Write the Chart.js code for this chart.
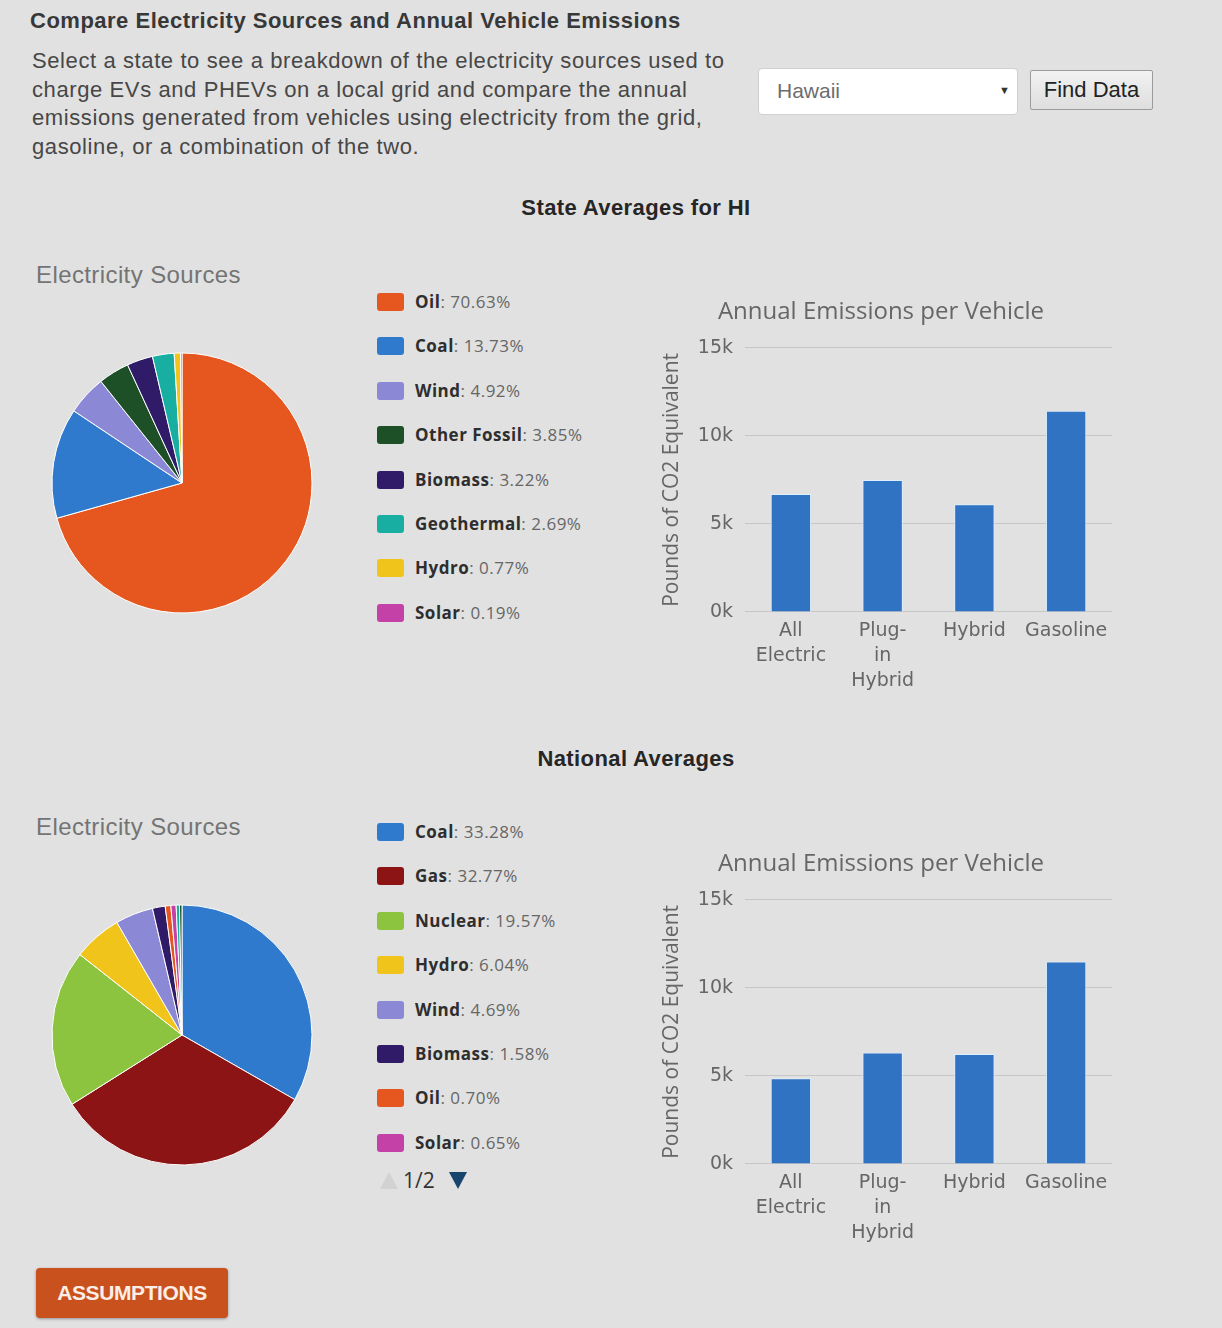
<!DOCTYPE html>
<html>
<head>
<meta charset="utf-8">
<script src="https://cdn.jsdelivr.net/npm/chart.js@4.4.1/dist/chart.umd.min.js"></script>
<style>
  html, body { margin: 0; padding: 0; }
  body {
    width: 1222px; height: 1328px; overflow: hidden; position: relative;
    background: #e1e1e1; font-family: "Liberation Sans", Arial, sans-serif;
  }
  .abs { position: absolute; }
  h1 { position: absolute; left: 30px; top: 8px; margin: 0; font-size: 22px; letter-spacing: 0.5px; font-weight: bold; color: #383838; white-space: nowrap; }
  .intro { left: 32px; top: 47px; font-size: 22px; letter-spacing: 0.6px; line-height: 28.7px; color: #474747; white-space: nowrap; }
  .select {
    left: 758px; top: 68px; width: 258px; height: 45px; background: #fff;
    border: 1px solid #d0d0d0; border-radius: 4px;
  }
  .select span { position: absolute; left: 18px; top: 10px; font-size: 21px; color: #6d6d6d; }
  .select i { position: absolute; left: 240px; top: 15px; font-style: normal; font-size: 11px; color: #333; }
  .find {
    left: 1030px; top: 70px; width: 123px; height: 40px; box-sizing: border-box;
    border: 1px solid #9c9c9c; border-radius: 2px; background: linear-gradient(#f2f2f2, #dedede);
    font-size: 22px; color: #222; text-align: center; line-height: 38px;
  }
  .section { left: 0; width: 1272px; text-align: center; font-size: 22px; letter-spacing: 0.4px; font-weight: bold; color: #262626; }
  .srcTitle { left: 36px; font-size: 24px; letter-spacing: 0.4px; color: #747474; }
  .legend .row { position: absolute; left: 377px; height: 20px; white-space: nowrap; font-family: "Open Sans", sans-serif; font-size: 17px; letter-spacing: 0.5px; color: #666; }
  .legend .sw { position: absolute; left: 0; top: 1px; width: 27px; height: 18px; border-radius: 3px; }
  .legend .txt { position: absolute; left: 38px; top: -2px; line-height: 24px; }
  .legend b { color: #2e2e2e; }
  .pager-up { left: 380px; top: 1172px; width: 0; height: 0; border-left: 9px solid transparent; border-right: 9px solid transparent; border-bottom: 17px solid #d2d2d2; }
  .pager-down { left: 449px; top: 1172px; width: 0; height: 0; border-left: 9px solid transparent; border-right: 9px solid transparent; border-top: 17px solid #17456e; }
  .pager-text { left: 403px; top: 1165px; font-family: "Open Sans", sans-serif; font-size: 21px; line-height: 30px; color: #333; }
  .assume {
    left: 36px; top: 1268px; width: 192px; height: 50px; background: #c9511d; border-radius: 4px;
    box-shadow: 0 1px 3px rgba(0,0,0,0.35); color: #fbeee6; font-weight: bold; font-size: 21px;
    text-align: center; line-height: 50px; letter-spacing: -0.4px;
  }
  canvas { position: absolute; }
</style>
</head>
<body>

<h1>Compare Electricity Sources and Annual Vehicle Emissions</h1>
<div class="abs intro">Select a state to see a breakdown of the electricity sources used to<br>charge EVs and PHEVs on a local grid and compare the annual<br>emissions generated from vehicles using electricity from the grid,<br>gasoline, or a combination of the two.</div>
<div class="abs select"><span>Hawaii</span><i>&#9660;</i></div>
<div class="abs find">Find Data</div>

<div class="abs section" style="top:195px">State Averages for HI</div>
<div class="abs srcTitle" style="top:261px">Electricity Sources</div>
<div class="legend" id="stateLegend"></div>
<canvas id="statePie" width="280" height="280" style="left:42px; top:343px"></canvas>
<canvas id="stateBar" width="470" height="414" style="left:650px; top:292px"></canvas>

<div class="abs section" style="top:746px">National Averages</div>
<div class="abs srcTitle" style="top:813px">Electricity Sources</div>
<div class="legend" id="nationalLegend"></div>
<div class="abs pager-up"></div>
<div class="abs pager-text">1/2</div>
<div class="abs pager-down"></div>
<canvas id="nationalPie" width="280" height="280" style="left:42px; top:895px"></canvas>
<canvas id="nationalBar" width="470" height="414" style="left:650px; top:844px"></canvas>

<div class="abs assume">ASSUMPTIONS</div>

<script>
// electricity mix for Hawaii, percent
const stateSources = ['Oil', 'Coal', 'Wind', 'Other Fossil', 'Biomass', 'Geothermal', 'Hydro', 'Solar'];
const stateShares = [70.63, 13.73, 4.92, 3.85, 3.22, 2.69, 0.77, 0.19];

// national mix, percent (last two sit on legend page 2)
const nationalSources = ['Coal', 'Gas', 'Nuclear', 'Hydro', 'Wind', 'Biomass', 'Oil', 'Solar', 'Geothermal', 'Other Fossil'];
const nationalShares = [33.28, 32.77, 19.57, 6.04, 4.69, 1.58, 0.70, 0.65, 0.41, 0.31];
const legendPageSize = 8;

// annual emissions per vehicle, lbs CO2e
const vehicleTypes = [['All', 'Electric'], ['Plug-', 'in', 'Hybrid'], 'Hybrid', 'Gasoline'];
const stateEmissions = [6700, 7490, 6120, 11420];
const nationalEmissions = [4870, 6330, 6240, 11500];
const emissionTicks = ['0k', '5k', '10k', '15k'];

const sourceColors = {
  'Oil': '#e5571f',
  'Coal': '#2f7acd',
  'Wind': '#8b88d6',
  'Other Fossil': '#1d5026',
  'Biomass': '#2f1b68',
  'Geothermal': '#19aea2',
  'Hydro': '#f1c41b',
  'Solar': '#c441a7',
  'Gas': '#8d1414',
  'Nuclear': '#8cc43f'
};
const barColor = '#2f73c2';
const axisGray = '#666';

function buildLegend(el, names, shares, top) {
  names.slice(0, legendPageSize).forEach((name, i) => {
    const row = document.createElement('div');
    row.className = 'row';
    row.style.top = (top + i * 44.4 - 10) + 'px';
    row.innerHTML = '<div class="sw" style="background:' + sourceColors[name] + '"></div>' +
      '<div class="txt"><b>' + name + '</b>: ' + shares[i].toFixed(2) + '%</div>';
    el.appendChild(row);
  });
}

function pieChart(id, names, shares) {
  new Chart(document.getElementById(id), {
    type: 'pie',
    data: {
      labels: names,
      datasets: [{
        data: shares,
        backgroundColor: names.map(n => sourceColors[n]),
        borderColor: '#ffffff',
        borderWidth: 1,
        hoverOffset: 0
      }]
    },
    options: {
      responsive: false,
      animation: false,
      radius: 130,
      plugins: { legend: { display: false }, tooltip: { enabled: false } }
    }
  });
}

function barChart(id, values) {
  new Chart(document.getElementById(id), {
    type: 'bar',
    data: {
      labels: vehicleTypes,
      datasets: [{
        data: values,
        backgroundColor: barColor,
        borderColor: '#dcefff',
        borderWidth: 1,
        borderSkipped: 'bottom',
        categoryPercentage: 1,
        barPercentage: 0.44
      }]
    },
    options: {
      responsive: false,
      animation: false,
      layout: { padding: { top: 0, right: 8, bottom: 5, left: 0 } },
      plugins: {
        legend: { display: false },
        tooltip: { enabled: false },
        title: {
          display: true,
          text: 'Annual Emissions per Vehicle',
          color: axisGray,
          font: { family: 'Open Sans', size: 24, weight: 'normal' },
          padding: { top: 6, bottom: 21 }
        }
      },
      scales: {
        x: {
          grid: { display: false, drawTicks: false },
          border: { display: false },
          ticks: {
            color: axisGray,
            font: { family: 'DejaVu Sans', size: 19, lineHeight: 1.316 },
            padding: 7,
            maxRotation: 0,
            autoSkip: false
          }
        },
        y: {
          min: 0,
          max: 15000,
          grid: { color: '#c6c6c6', drawTicks: false },
          border: { display: false },
          ticks: {
            stepSize: 5000,
            padding: 12,
            color: axisGray,
            font: { family: 'DejaVu Sans', size: 19 },
            callback: (v, i) => emissionTicks[i]
          },
          title: {
            display: true,
            text: 'Pounds of CO2 Equivalent',
            color: axisGray,
            font: { family: 'Open Sans', size: 21 },
            padding: { top: 9, bottom: 0 }
          },
          afterFit: scale => { scale.width = 95; }
        }
      }
    }
  });
}

buildLegend(document.getElementById('stateLegend'), stateSources, stateShares, 302);
buildLegend(document.getElementById('nationalLegend'), nationalSources, nationalShares, 832);
pieChart('statePie', stateSources, stateShares);
pieChart('nationalPie', nationalSources, nationalShares);
barChart('stateBar', stateEmissions);
barChart('nationalBar', nationalEmissions);
</script>
</body>
</html>
